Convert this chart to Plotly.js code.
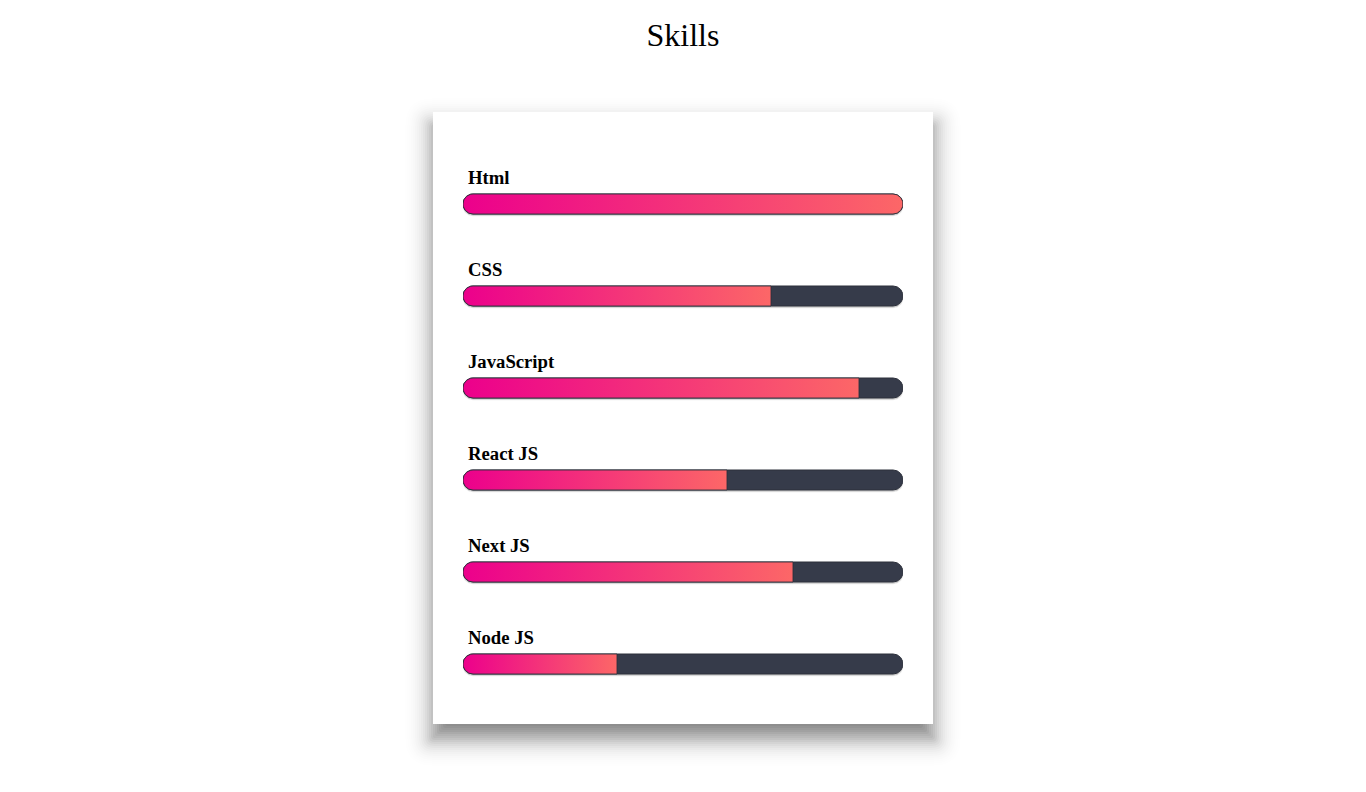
<!DOCTYPE html>
<html>
<head>
<meta charset="utf-8">
<script src="https://cdn.plot.ly/plotly-3.0.1.min.js"></script>
<style>html,body{margin:0;padding:0;background:#fff;}#chart{width:1366px;height:792px;}</style>
</head>
<body>
<div id="chart"></div>
<script>
// ---- data ----
const skills = ['Html', 'CSS', 'JavaScript', 'React JS', 'Next JS', 'Node JS'];
const levels = [100, 70, 90, 60, 75, 35];
const maxLevel = 100;
const chartTitle = 'Skills';

// ---- layout geometry (pixels) ----
const W = 1366, H = 792;
const L = 463, R = 903, T = 112, B = 724;   // plot area == card's inner column
const rowPx = 92, barPx = 20;
const plotW = R - L, plotH = B - T;
const serif = '"Liberation Serif", "Times New Roman", Times, serif';

const rx = (barPx / 2) * maxLevel / plotW;  // radius of bar ends in x units
const ry = (barPx / 2) / rowPx;             // half bar height in y units

function halfH(x) {
  if (x < rx) { const d = (rx - x) / rx; return ry * Math.sqrt(Math.max(0, 1 - d * d)); }
  if (x > maxLevel - rx) { const d = (x - (maxLevel - rx)) / rx; return ry * Math.sqrt(Math.max(0, 1 - d * d)); }
  return ry;
}
function barOutline(v, yc) {
  const xs = [];
  const n = 24;
  for (let k = 0; k <= n; k++) xs.push(rx - rx * Math.cos(k / n * Math.PI / 2));
  for (let k = 0; k <= n; k++) xs.push((maxLevel - rx) + rx * Math.sin(k / n * Math.PI / 2));
  const pts = xs.filter(x => x < v);
  pts.push(v);
  const X = [], Y = [];
  pts.forEach(x => { X.push(x); Y.push(yc - halfH(x)); });
  for (let k = pts.length - 1; k >= 0; k--) { X.push(pts[k]); Y.push(yc + halfH(pts[k])); }
  X.push(X[0]); Y.push(Y[0]);
  return {X, Y};
}

const traces = [];
// bar drop shadows
skills.forEach((s, i) => {
  const o = barOutline(maxLevel, i + 1.5 / rowPx);
  traces.push({type: 'scatter', mode: 'lines', x: o.X, y: o.Y, fill: 'toself',
    fillcolor: 'rgba(0,0,0,0.16)', line: {width: 1.5, color: 'rgba(0,0,0,0.08)'}, hoverinfo: 'skip', showlegend: false});
});
// tracks
skills.forEach((s, i) => {
  const o = barOutline(maxLevel, i);
  traces.push({type: 'scatter', mode: 'lines', x: o.X, y: o.Y, fill: 'toself',
    fillcolor: '#363b4a', line: {width: 1, color: '#2c303b'}, hoverinfo: 'skip', showlegend: false});
});
// gradient fills
skills.forEach((s, i) => {
  const o = barOutline(levels[i], i);
  traces.push({type: 'scatter', mode: 'lines', x: o.X, y: o.Y, fill: 'toself',
    fillgradient: {type: 'horizontal', colorscale: [[0, '#ec008c'], [1, '#fc6767']]},
    line: {width: 1, color: 'rgba(44,48,59,0.85)'}, hoverinfo: 'skip', showlegend: false, name: s});
});

// ---- card with box shadow ----
const px = x => (x - L) / plotW;
const py = y => (B - y) / plotH;
function rrect(x0, y0, x1, y1, r) {
  if (r <= 0.5) return `M${px(x0)},${py(y0)} L${px(x1)},${py(y0)} L${px(x1)},${py(y1)} L${px(x0)},${py(y1)} Z`;
  return `M${px(x0 + r)},${py(y0)} L${px(x1 - r)},${py(y0)} Q${px(x1)},${py(y0)} ${px(x1)},${py(y0 + r)} ` +
    `L${px(x1)},${py(y1 - r)} Q${px(x1)},${py(y1)} ${px(x1 - r)},${py(y1)} L${px(x0 + r)},${py(y1)} ` +
    `Q${px(x0)},${py(y1)} ${px(x0)},${py(y1 - r)} L${px(x0)},${py(y0 + r)} Q${px(x0)},${py(y0)} ${px(x0 + r)},${py(y0)} Z`;
}
function erf(x) {
  const s = Math.sign(x); x = Math.abs(x);
  const t = 1 / (1 + 0.3275911 * x);
  const y = 1 - (((((1.061405429 * t - 1.453152027) * t) + 1.421413741) * t - 0.284496736) * t + 0.254829592) * t * Math.exp(-x * x);
  return s * y;
}
const cardX0 = 433, cardX1 = 933, cardY0 = 112, cardY1 = 724;
const shOff = 14, sigma = 13, alpha = 0.5;
const D = d => alpha * (1 - 0.5 * (1 + erf(d / (sigma * Math.SQRT2))));
const Tr = d => 1 - D(d);
const exps = [];
for (let e = -30; e <= 42; e += 2) exps.push(e);
const shapes = [];
for (let k = 0; k < exps.length; k++) {
  const e = exps[k];
  const tNext = k + 1 < exps.length ? Tr(exps[k + 1]) : 1;
  const a = 1 - Tr(e) / tNext;
  shapes.push({type: 'path', xref: 'paper', yref: 'paper', layer: 'below',
    path: rrect(cardX0 - e, cardY0 + shOff - e, cardX1 + e, cardY1 + shOff + e, Math.max(0, e) * 0.9 + 2),
    fillcolor: `rgba(0,0,0,${a.toFixed(4)})`, line: {width: 0}});
}
shapes.push({type: 'path', xref: 'paper', yref: 'paper', layer: 'below',
  path: rrect(cardX0, cardY0, cardX1, cardY1, 0), fillcolor: '#ffffff', line: {width: 0}});

const annotations = skills.map((s, i) => ({
  text: '<b>' + s + '</b>', x: 0, y: i, xref: 'x', yref: 'y', xanchor: 'left', yanchor: 'middle',
  xshift: 3, yshift: 27, showarrow: false, font: {family: serif, size: 18.7, color: '#000'}
}));

const layout = {
  width: W, height: H,
  margin: {l: L, r: W - R, t: T, b: H - B, pad: 0},
  paper_bgcolor: '#ffffff', plot_bgcolor: 'rgba(0,0,0,0)',
  title: {text: chartTitle, font: {family: serif, size: 32, color: '#000'},
    x: 0.5, xref: 'container', xanchor: 'center', y: 1 - 35 / H, yref: 'container', yanchor: 'middle'},
  xaxis: {range: [0, maxLevel], visible: false, fixedrange: true},
  yaxis: {range: [-1 + plotH / rowPx, -1], visible: false, fixedrange: true},
  shapes: shapes, annotations: annotations, showlegend: false, hovermode: false
};
Plotly.newPlot('chart', traces, layout, {displayModeBar: false, staticPlot: true});
</script>
</body>
</html>
